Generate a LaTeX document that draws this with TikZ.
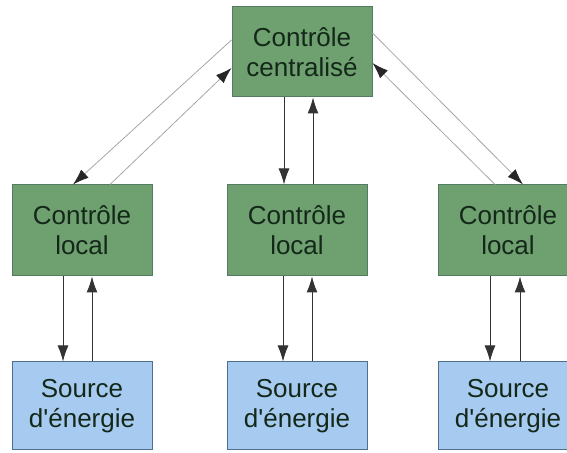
\documentclass[tikz,border=0pt]{standalone}
\usepackage{fontspec}
\setmainfont{Liberation Sans}
\usepackage{tikz}
\usetikzlibrary{calc,arrows.meta}
\definecolor{ctl-fill}{HTML}{6FA06F}
\definecolor{ctl-line}{HTML}{557A62}
\definecolor{src-fill}{HTML}{A7CBF0}
\definecolor{src-line}{HTML}{4F6F8F}
\definecolor{box-text}{HTML}{14281A}

\begin{document}
\begin{tikzpicture}[x=1pt, y=1pt, >={Latex[length=16pt,width=11pt]},
    ctlbox/.style={draw=ctl-line, fill=ctl-fill, line width=1pt, minimum width=140pt,
        minimum height=90pt, align=center, inner sep=0pt, text=box-text,
        font=\fontsize{26}{30}\selectfont},
    srcbox/.style={ctlbox, draw=src-line, fill=src-fill, minimum height=88pt},
    link/.style={->, line width=1pt, black!80},
    diag/.style={-{Latex[length=16pt,width=11pt,color=black!85]}, line width=0.8pt, black!35}]

    % cadre de l'image
    \clip (0,0) rectangle (567,452);

    % Contrôle centralisé
    \node[ctlbox] (central) at (302,400) {Contrôle\\centralisé};

    % Contrôles locaux
    \node[ctlbox, minimum height=91pt] (local1) at (82,221.5) {Contrôle\\local};
    \node[ctlbox, minimum height=91pt] (local2) at (297,221.5) {Contrôle\\local};
    \node[ctlbox, minimum height=91pt] (local3) at (508,221.5) {Contrôle\\local};

    % Sources d'énergie
    \node[srcbox] (source1) at (82,46) {Source\\d\textquotesingle énergie};
    \node[srcbox] (source2) at (297,46) {Source\\d\textquotesingle énergie};
    \node[srcbox] (source3) at (508,46) {Source\\d\textquotesingle énergie};

    % Liaisons centrale <-> locales (diagonales)
    \draw[diag] ([yshift=12pt]central.west) -- ([xshift=-9pt]local1.north);
    \draw[diag] ([xshift=28pt]local1.north) -- ([yshift=-16pt]central.west);
    \draw[diag] ([yshift=19pt]central.east) -- ([xshift=15pt]local3.north);
    \draw[diag] ([xshift=-13pt]local3.north) -- ([yshift=-11pt]central.east);

    % Liaison centrale <-> locale du milieu
    \draw[link] ([xshift=-18pt]central.south) -- ([xshift=-18pt]central.south |- local2.north);
    \draw[link] ([xshift=11pt]central.south |- local2.north) -- ([xshift=11pt]central.south);

    % Liaisons locales <-> sources
    \foreach \i/\dn/\up in {1/-19/10, 2/-14/15, 3/-18/12} {
        \draw[link] ([xshift=\dn pt]local\i.south) -- ([xshift=\dn pt]source\i.north);
        \draw[link] ([xshift=\up pt]source\i.north) -- ([xshift=\up pt]local\i.south);
    }

\end{tikzpicture}
\end{document}
